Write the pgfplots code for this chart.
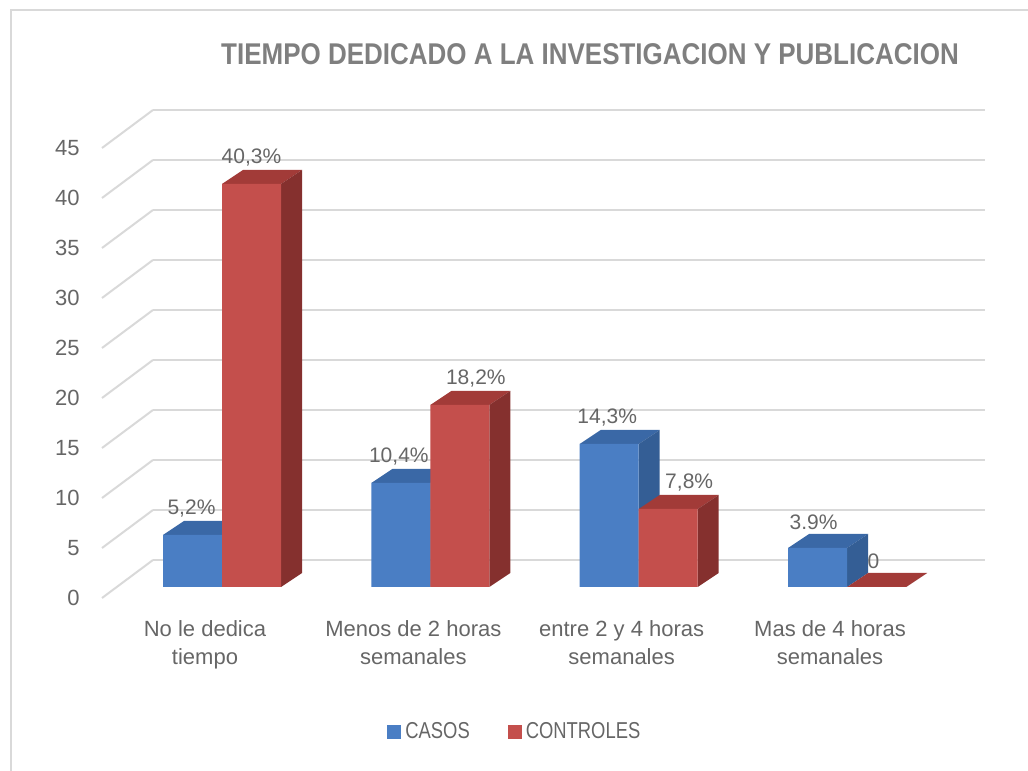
\documentclass[border=0pt]{standalone}
\usepackage{fontspec}
\setmainfont{Liberation Sans}
\usepackage{graphicx}
\usepackage{pgfplots}
\usepackage{pgfplotstable}
\pgfplotsset{compat=1.18}
\definecolor{txt}{HTML}{666666}
\definecolor{ttl}{HTML}{7F7F7F}
\definecolor{gridc}{HTML}{D9D9D9}
\definecolor{framec}{HTML}{D9D9D9}
\definecolor{bfront}{HTML}{4A7EC4}
\definecolor{bside}{HTML}{345E95}
\definecolor{btop}{HTML}{3A68A6}
\definecolor{rfront}{HTML}{C44F4C}
\definecolor{rside}{HTML}{85302E}
\definecolor{rtop}{HTML}{A23B38}
% label shift: s px -> hspace of s pt shifts the centred label by s px
\newcommand\sh[1]{\hspace*{#1pt}}

\pgfplotstableread{
x casos controles lA lB
0 5.2 40.3 \sh{-1}5,2\% \sh{0}40,3\%
1 10.4 18.2 \sh{-2}10,4\% \sh{16}18,2\%
2 14.3 7.8 \sh{-2}14,3\% \sh{21}7,8\%
3 3.9 0 \sh{-4}3.9\% \sh{-3}0
}\datatable

\newcommand\dX{0.1008}
\newcommand\dY{1.4}
\newcommand\barfaces[4]{%
  \pgfplotsforeachungrouped \i in {0,1,2,3}{%
    \pgfplotstablegetelem{\i}{#1}\of\datatable
    \pgfmathsetmacro\fv{\pgfplotsretval}%
    \pgfmathsetmacro\fxl{\i+(#2)-0.1416}%
    \pgfmathsetmacro\fxr{\i+(#2)+0.1416}%
    \pgfmathsetmacro\fxlb{\fxl+\dX}%
    \pgfmathsetmacro\fxrb{\fxr+\dX}%
    \pgfmathsetmacro\fvb{\fv+\dY}%
    \edef\tmp{%
      \noexpand\addplot[fill=#4,draw=none,mark=none,forget plot] coordinates {(\fxl,\fv) (\fxr,\fv) (\fxrb,\fvb) (\fxlb,\fvb)} -- cycle;%
      \noexpand\addplot[fill=#3,draw=none,mark=none,forget plot] coordinates {(\fxr,0) (\fxrb,\dY) (\fxrb,\fvb) (\fxr,\fv)} -- cycle;%
    }\tmp
  }%
}

\begin{document}
\begin{tikzpicture}
\useasboundingbox (0,0) rectangle (514pt,385.5pt);
\draw[framec, line width=1pt] (5.5pt,-5pt) -- (5.5pt,380.5pt) -- (520pt,380.5pt);
\begin{axis}[
  at={(76.5pt,85.5pt)}, anchor=south west,
  scale only axis, width=416pt, height=245pt,
  xmin=-0.3312, xmax=3.6624, ymin=-1.3, ymax=47.7,
  clip=false,
  axis line style={draw=none},
  major tick length=0pt,
  ytick={2.7,7.7,12.7,17.7,22.7,27.7,32.7,37.7,42.7,47.7},
  yticklabels={0,5,10,15,20,25,30,35,40,45},
  ymajorgrids, grid style={draw=gridc, line width=1pt},
  xtick={0,1,2,3},
  xticklabels={No le dedica\\tiempo, Menos de 2 horas\\semanales, entre 2 y 4 horas\\semanales, Mas de 4 horas\\semanales},
  xticklabel style={align=center, font=\fontsize{11}{14}\selectfont, text=txt, anchor=north, inner sep=0pt, xshift=-8.5pt, yshift=-10pt},
  yticklabel style={font=\fontsize{11}{13}\selectfont, text=txt, anchor=east, inner sep=0pt, xshift=-36.5pt, yshift=-19pt},
  /pgf/number format/assume math mode=true,
  legend style={draw=none, fill=none, inner sep=0pt, at={(0.28125,-0.2694)}, anchor=west, legend columns=2,
    font=\fontsize{11.5}{13}\selectfont, text=txt,
    /tikz/every even column/.append style={column sep=17pt}},
  legend image code/.code={\fill[#1] (0pt,-3.5pt) rectangle (7pt,3.5pt);},
  nodes near coords style={anchor=center, yshift=13pt, font=\fontsize{10.5}{12}\selectfont, text=txt},
]
\pgfplotsinvokeforeach{0,5,...,45}{
  \draw[gridc, line width=1pt] (axis cs:-0.576,#1-1.1) -- (axis cs:-0.3312,#1+2.7);
}
\barfaces{casos}{-0.1416}{bside}{btop}
\addplot[ybar, bar width=0.2832, bar shift=-0.1416, fill=bfront, draw=none, forget plot,
  nodes near coords, point meta=explicit symbolic,
  every node near coord/.append style={xshift=-14.75pt}]
  table[x=x, y=casos, meta=lA] {\datatable};
\barfaces{controles}{0.1416}{rside}{rtop}
\addplot[ybar, bar width=0.2832, bar shift=0.1416, fill=rfront, draw=none, forget plot,
  nodes near coords, point meta=explicit symbolic,
  every node near coord/.append style={xshift=14.75pt}]
  table[x=x, y=controles, meta=lB] {\datatable};
\addlegendimage{fill=bfront, draw=none}
\addlegendentry{\scalebox{0.8}[1]{CASOS}}
\addlegendimage{fill=rfront, draw=none}
\addlegendentry{\scalebox{0.8}[1]{CONTROLES}}
\end{axis}
\node[anchor=base, font=\bfseries\fontsize{15}{18}\selectfont, text=ttl] at (295pt,353pt) {\scalebox{0.866}[1]{TIEMPO DEDICADO A LA INVESTIGACION Y PUBLICACION}};
\end{tikzpicture}
\end{document}
